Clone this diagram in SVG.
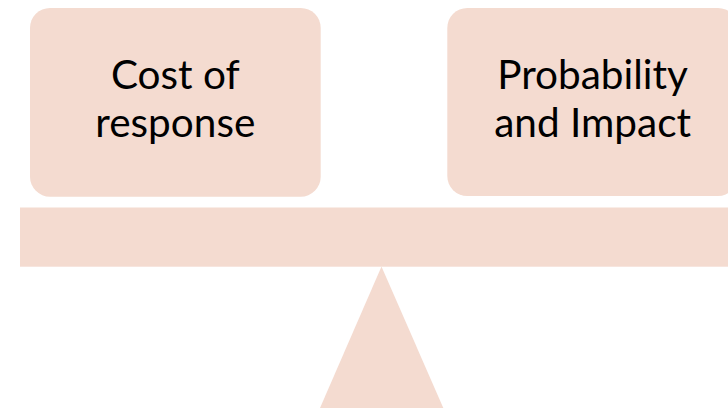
<svg xmlns="http://www.w3.org/2000/svg" width="728" height="408" viewBox="0 0 728 408">
<style>
.shape{fill:#F4DBD0;}
.lbl{font-family:Lato,"Open Sans","Liberation Sans",sans-serif;font-size:40.5px;fill:#000;text-anchor:middle;}
</style>
<rect x="0" y="0" width="728" height="408" fill="#fff"/>
<g id="beam"><rect class="shape" x="20" y="207.5" width="720" height="59.2"/></g>
<g id="fulcrum"><polygon class="shape" points="381.5,266.5 320,408 443.3,408"/></g>
<g id="cost"><rect class="shape" x="30" y="8" width="290.7" height="188.7" rx="20" ry="20"/>
<text class="lbl" x="175.3" y="89">Cost of</text><text class="lbl" x="175.3" y="137">response</text></g>
<g id="probability"><rect class="shape" x="447.3" y="8" width="290.7" height="188" rx="20" ry="20"/>
<text class="lbl" x="592.6" y="89">Probability</text><text class="lbl" x="592.6" y="137">and Impact</text></g>
<g id="connectors"/>
</svg>
